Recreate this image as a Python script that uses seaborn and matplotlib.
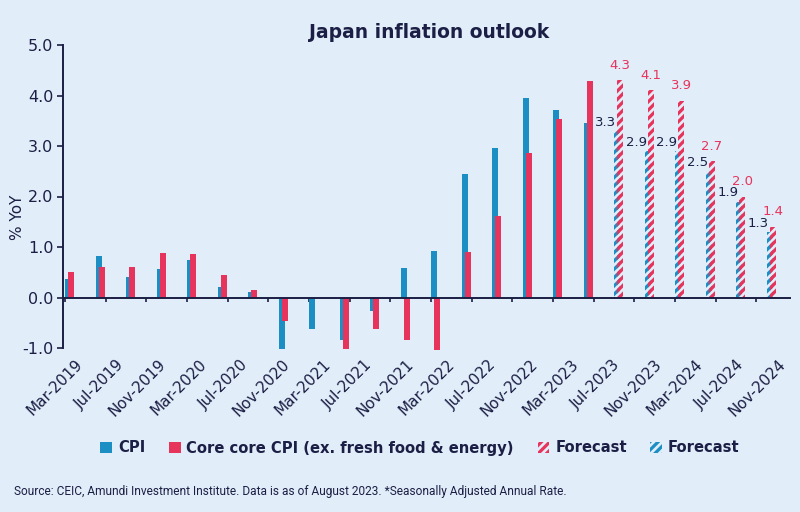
import numpy as np
import pandas as pd
import matplotlib
matplotlib.use("Agg")
import matplotlib.pyplot as plt
import matplotlib.transforms as mtransforms
from matplotlib.patches import Patch
import seaborn as sns

# ---------------- data ----------------
# quarter positions expressed in months since Mar-2019
actual_months = [0, 3, 6, 9, 12, 15, 18, 21, 24, 27, 30, 33, 36, 39, 42, 45, 48, 51]
cpi_actual = [0.37, 0.82, 0.41, 0.57, 0.75, 0.21, 0.11, -1.02, -0.63, -0.84, -0.27,
              0.58, 0.93, 2.45, 2.96, 3.95, 3.72, 3.45]
core_actual = [0.51, 0.61, 0.61, 0.88, 0.86, 0.44, 0.14, -0.47, 0.0, -1.01, -0.63,
               -0.84, -1.04, 0.91, 1.62, 2.86, 3.54, 4.28]

forecast_months = [54, 57, 60, 63, 66, 69]
cpi_forecast = [3.3, 2.9, 2.9, 2.5, 1.9, 1.3]
core_forecast = [4.3, 4.1, 3.9, 2.7, 2.0, 1.4]

tick_months = [0, 4, 8, 12, 16, 20, 24, 28, 32, 36, 40, 44, 48, 52, 56, 60, 64, 68]
tick_labels = ["Mar-2019", "Jul-2019", "Nov-2019", "Mar-2020", "Jul-2020", "Nov-2020",
               "Mar-2021", "Jul-2021", "Nov-2021", "Mar-2022", "Jul-2022", "Nov-2022",
               "Mar-2023", "Jul-2023", "Nov-2023", "Mar-2024", "Jul-2024", "Nov-2024"]
y_ticks = [-1, 0, 1, 2, 3, 4, 5]

title = "Japan inflation outlook"
ylabel = "% YoY"
legend_labels = ["CPI", "Core core CPI (ex. fresh food & energy)", "Forecast", "Forecast"]
source = ("Source: CEIC, Amundi Investment Institute. Data is as of August 2023. "
          "*Seasonally Adjusted Annual Rate.")

# ---------------- style ----------------
BG = "#e1edf8"
BLUE = "#1b8ec3"
RED = "#e6345c"
NAVY = "#1b1f45"

sns.set_theme(style="white")
plt.rcParams["font.family"] = ["DejaVu Sans"]
plt.rcParams["hatch.linewidth"] = 2.3

fig = plt.figure(figsize=(8.0, 5.12), dpi=100, facecolor=BG)
ax = fig.add_axes([63 / 800, 1 - 348 / 512, 727 / 800, (348 - 45) / 512])
ax.set_facecolor(BG)

CPI_OFF = 0.3
CORE_OFF = 0.6

df_a = pd.DataFrame({"m": actual_months, "cpi": cpi_actual, "core": core_actual})
df_f = pd.DataFrame({"m": forecast_months, "cpi": cpi_forecast, "core": core_forecast})

n0 = len(ax.patches)
sns.barplot(x=df_a["m"] + CPI_OFF, y=df_a["cpi"], native_scale=True, orient="x",
            width=0.2, color=BLUE, saturation=1, errorbar=None, linewidth=0, ax=ax)
sns.barplot(x=df_a["m"] + CORE_OFF, y=df_a["core"], native_scale=True, orient="x",
            width=0.2, color=RED, saturation=1, errorbar=None, linewidth=0, ax=ax)
n1 = len(ax.patches)
sns.barplot(x=df_f["m"] + CPI_OFF, y=df_f["cpi"], native_scale=True, orient="x",
            width=0.2, color=BLUE, saturation=1, errorbar=None, linewidth=0, ax=ax)
n2 = len(ax.patches)
sns.barplot(x=df_f["m"] + CORE_OFF, y=df_f["core"], native_scale=True, orient="x",
            width=0.2, color=RED, saturation=1, errorbar=None, linewidth=0, ax=ax)
n3 = len(ax.patches)

for p in ax.patches[n0:n1]:
    p.set_clip_on(False)
for p in ax.patches[n1:n2]:
    p.set_facecolor("none")
    p.set_edgecolor(BLUE)
    p.set_hatch("////")
    p.set_linewidth(0)
for p in ax.patches[n2:n3]:
    p.set_facecolor("none")
    p.set_edgecolor(RED)
    p.set_hatch("////")
    p.set_linewidth(0)

# data labels on forecasts
lab_off = lambda dy: mtransforms.offset_copy(ax.transData, fig=fig, x=0, y=dy, units="points")
for m, v in zip(forecast_months, cpi_forecast):
    ax.text(m + 0.2, v, f"{v:.1f}", ha="right", va="bottom", fontsize=9.5,
            color=NAVY, transform=lab_off(1.5))
for m, v in zip(forecast_months, core_forecast):
    ax.text(m + CORE_OFF, v, f"{v:.1f}", ha="center", va="bottom", fontsize=9.5,
            color=RED, transform=lab_off(6))

# axes
ax.set_xlim(-0.2, 71.3)
ax.set_ylim(-1.0, 5.0)
ax.set_xticks(tick_months)
ax.set_xticklabels([])
ax.set_yticks(y_ticks)
ax.set_yticklabels([f"{t:.1f}" for t in y_ticks], fontsize=11.5, color=NAVY)
ax.tick_params(axis="y", direction="out", length=4, width=1.2, color=NAVY, pad=3, left=True)
ax.tick_params(axis="x", direction="out", length=3, width=1.2, color=NAVY, bottom=True)
ax.set_xlabel("")
ax.set_ylabel("")
for s in ["top", "right"]:
    ax.spines[s].set_visible(False)
ax.spines["bottom"].set_position(("data", 0))
ax.spines["bottom"].set_color(NAVY)
ax.spines["bottom"].set_linewidth(1.4)
ax.spines["left"].set_color(NAVY)
ax.spines["left"].set_linewidth(1.4)
ax.grid(False)

# rotated x labels placed under the plot
base = ax.get_xaxis_transform()
for k, (m, lab) in enumerate(zip(tick_months, tick_labels)):
    dx = (10 + 0.65 * k) * 0.72
    tr = base + mtransforms.ScaledTranslation(dx / 72, -9 * 0.72 / 72, fig.dpi_scale_trans)
    ax.text(m, 0, lab, rotation=45, rotation_mode="anchor", ha="right", va="top",
            fontsize=11, color=NAVY, transform=tr)

fig.text(18 / 800, 1 - 217 / 512, ylabel, rotation=90, ha="center", va="center",
         fontsize=11, color=NAVY)
fig.text(429 / 800, 1 - 32 / 512, title, ha="center", va="center", fontsize=13.5,
         fontweight="heavy", color=NAVY)

handles = [Patch(facecolor=BLUE, edgecolor=BLUE, linewidth=0),
           Patch(facecolor=RED, edgecolor=RED, linewidth=0),
           Patch(facecolor="none", edgecolor=RED, hatch="////", linewidth=0),
           Patch(facecolor="none", edgecolor=BLUE, hatch="////", linewidth=0)]
leg = fig.legend(handles, legend_labels, loc="center", bbox_to_anchor=(420 / 800, 1 - 448 / 512),
                 ncol=4, frameon=False, handlelength=0.8, handleheight=0.8,
                 handletextpad=0.4, columnspacing=1.6,
                 prop={"size": 10.6, "weight": "bold"})
for t in leg.get_texts():
    t.set_color(NAVY)

fig.text(14 / 800, 1 - 492 / 512, source, ha="left", va="center", fontsize=8.6,
         color=NAVY, family=["Roboto", "DejaVu Sans"])

fig.savefig("out.png", dpi=100, facecolor=BG)
